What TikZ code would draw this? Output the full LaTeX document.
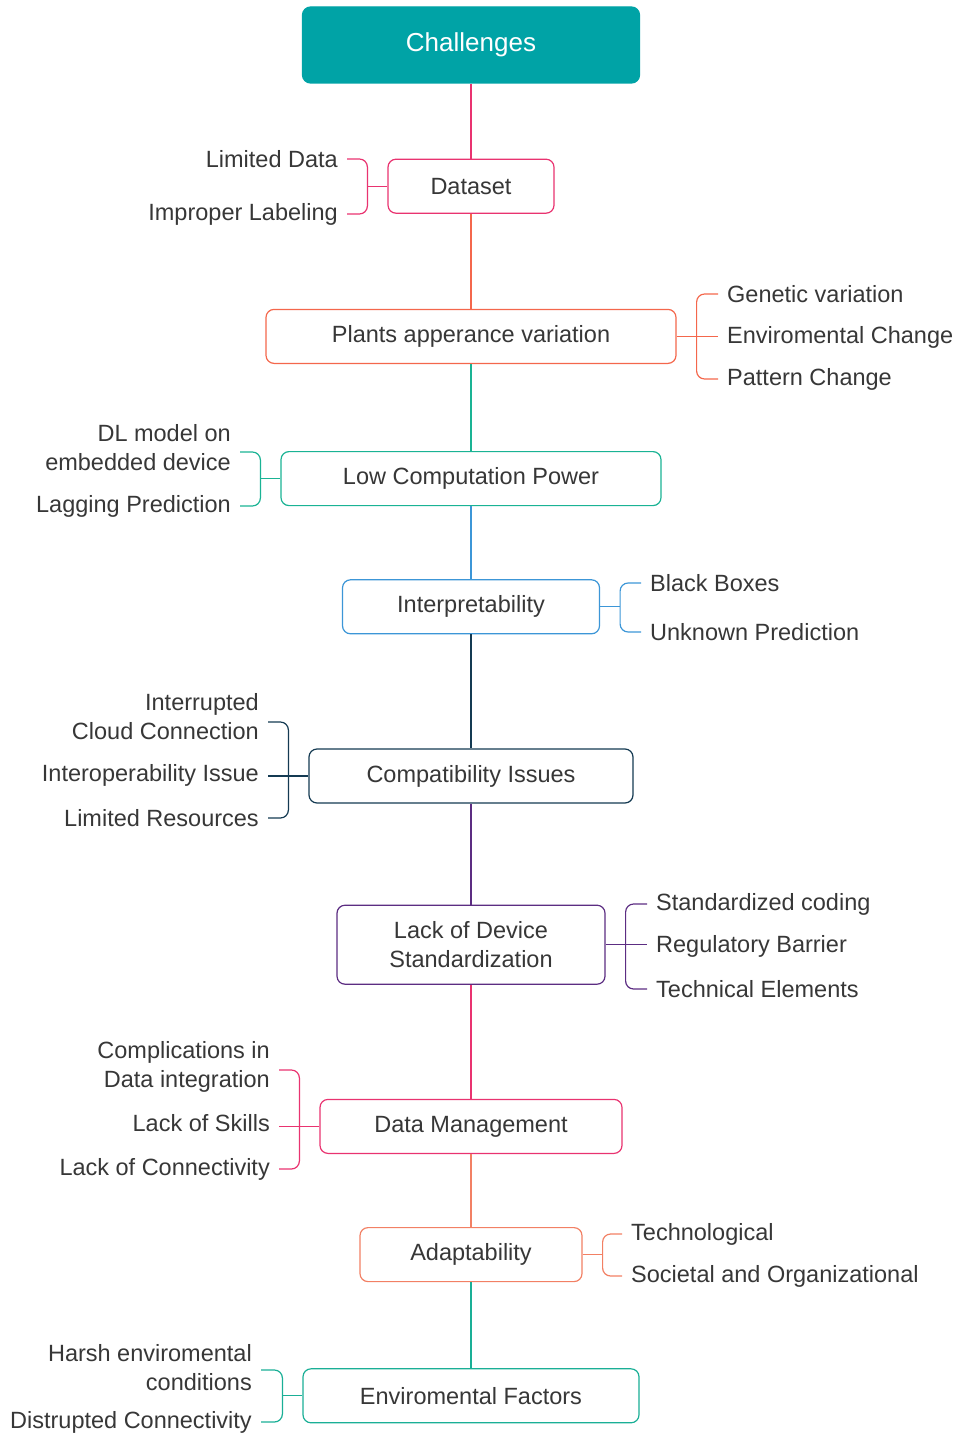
\documentclass[tikz,border=0pt]{standalone}
\usepackage{fontspec}
\setmainfont{Liberation Sans}
\usetikzlibrary{positioning}
\definecolor{ch-teal}{RGB}{0,163,166}
\definecolor{c-pink}{RGB}{233,51,112}
\definecolor{c-orange}{RGB}{244,103,76}
\definecolor{c-green}{RGB}{26,179,148}
\definecolor{c-blue}{RGB}{60,150,215}
\definecolor{c-navy}{RGB}{20,58,82}
\definecolor{c-purple}{RGB}{92,45,130}
\definecolor{c-salmon}{RGB}{242,128,100}
\definecolor{c-sea}{RGB}{26,175,150}
\definecolor{txt-gray}{RGB}{55,55,55}

\begin{document}
\begin{tikzpicture}
    [x=1pt, y=-1pt,
    box/.style = {rectangle, draw, align=center, fill=white, rounded corners=8pt,
            line width=1.2pt, minimum height=54pt, text=txt-gray,
            font=\fontsize{23.5}{29}\selectfont},
    lbl/.style = {inner sep=0pt, text=txt-gray, font=\fontsize{23.5}{29}\selectfont},
    brace/.style = {line width=1.2pt, rounded corners=8pt},
    ]
    
    \useasboundingbox (0,0) rectangle (957,1434);
    
	\node[box, draw=ch-teal, fill=ch-teal, text=white, minimum width=337pt, minimum height=76pt,
		font=\fontsize{26}{30}\selectfont] (chal) at (471,45) {Challenges};
	
	\node[box, draw=c-pink, minimum width=166pt, below=75pt of chal] (data) {Dataset};
	\node[box, draw=c-orange, minimum width=410pt, below=95pt of data] (plant) {Plants apperance variation};
	\node[box, draw=c-green, minimum width=380pt, below=87pt of plant] (lowcp) {Low Computation Power};
	\node[box, draw=c-blue, minimum width=257pt, below=73pt of lowcp] (interp) {Interpretability};
	\node[box, draw=c-navy, minimum width=324pt, below=114pt of interp] (compat) {Compatibility Issues};
	\node[box, draw=c-purple, minimum width=268pt, minimum height=79pt, below=101pt of compat] (stand) {Lack of Device\\Standardization};
	\node[box, draw=c-pink, minimum width=302pt, below=114pt of stand] (dmgmt) {Data Management};
	\node[box, draw=c-salmon, minimum width=222pt, below=73pt of dmgmt] (adapt) {Adaptability};
	\node[box, draw=c-sea, minimum width=336pt, below=86pt of adapt] (envf) {Enviromental Factors};
	
	
	\draw[c-pink, line width=1.2pt] (chal) -- (data);
	\draw[c-orange, line width=1.2pt] (data) -- (plant);
	\draw[c-green, line width=1.2pt] (plant) -- (lowcp);
	\draw[c-blue, line width=1.2pt] (lowcp) -- (interp);
	\draw[c-navy, line width=1.2pt] (interp) -- (compat);
	\draw[c-purple, line width=1.2pt] (compat) -- (stand);
	\draw[c-pink, line width=1.2pt] (stand) -- (dmgmt);
	\draw[c-salmon, line width=1.2pt] (dmgmt) -- (adapt);
	\draw[c-sea, line width=1.2pt] (adapt) -- (envf);
	
	
	\node[lbl, anchor=east] (lim-data) at (338,159) {Limited Data};
	\node[lbl, anchor=east] (imp-lab) at (338,214) {Improper Labeling};
	\draw[brace, c-pink] ([xshift=9pt]lim-data.east) -| ([xshift=-20pt]data.west) |- ([xshift=9pt]imp-lab.east);
	\draw[brace, c-pink] ([xshift=-20pt]data.west) -- (data.west);
	
	\node[lbl, anchor=west] (gen-var) at (727,294) {Genetic variation};
	\node[lbl, anchor=west] (env-chg) at (727,337) {Enviromental Change};
	\node[lbl, anchor=west] (pat-chg) at (727,379) {Pattern Change};
	\draw[brace, c-orange] ([xshift=-9pt]gen-var.west) -| ([xshift=20pt]plant.east) |- ([xshift=-9pt]pat-chg.west);
	\draw[brace, c-orange] (plant.east) -- ([xshift=-9pt]env-chg.west |- plant.east);
	
	\node[lbl, anchor=east, align=right] (dl-model) at (231,448) {DL model on\\embedded device};
	\node[lbl, anchor=east] (lag-pred) at (231,506) {Lagging Prediction};
	\draw[brace, c-green] ([shift={(9pt,-4pt)}]dl-model.east) -| ([xshift=-20pt]lowcp.west) |- ([xshift=9pt]lag-pred.east);
	\draw[brace, c-green] ([xshift=-20pt]lowcp.west) -- (lowcp.west);
	
	\node[lbl, anchor=west] (blk-box) at (650,583) {Black Boxes};
	\node[lbl, anchor=west] (unk-pred) at (650,632) {Unknown Prediction};
	\draw[brace, c-blue] ([xshift=-9pt]blk-box.west) -| ([xshift=20pt]interp.east) |- ([xshift=-9pt]unk-pred.west);
	\draw[brace, c-blue] (interp.east) -- ([xshift=20pt]interp.east);
	
	\node[lbl, anchor=east, align=right] (cloud) at (259,717) {Interrupted\\Cloud Connection};
	\node[lbl, anchor=east] (interop) at (259,775) {Interoperability Issue};
	\node[lbl, anchor=east] (lim-res) at (259,818) {Limited Resources};
	\draw[brace, c-navy] ([shift={(9pt,-5pt)}]cloud.east) -| ([xshift=-20pt]compat.west) |- ([xshift=9pt]lim-res.east);
	\draw[brace, c-navy] ([xshift=9pt]interop.east |- compat.west) -- (compat.west);
	
	\node[lbl, anchor=west] (std-cod) at (656,904) {Standardized coding};
	\node[lbl, anchor=west] (reg-bar) at (656,946) {Regulatory Barrier};
	\node[lbl, anchor=west] (tech-el) at (656,989) {Technical Elements};
	\draw[brace, c-purple] ([xshift=-9pt]std-cod.west) -| ([xshift=20pt]stand.east) |- ([xshift=-9pt]tech-el.west);
	\draw[brace, c-purple] (stand.east) -- ([xshift=-9pt]reg-bar.west |- stand.east);
	
	\node[lbl, anchor=east, align=right] (compl) at (270,1067) {Complications in\\Data integration};
	\node[lbl, anchor=east] (skills) at (270,1123) {Lack of Skills};
	\node[lbl, anchor=east] (connect) at (270,1169) {Lack of Connectivity};
	\draw[brace, c-pink] ([shift={(9pt,-3pt)}]compl.east) -| ([xshift=-20pt]dmgmt.west) |- ([xshift=9pt]connect.east);
	\draw[brace, c-pink] ([xshift=9pt]skills.east |- dmgmt.west) -- (dmgmt.west);
	
	\node[lbl, anchor=west] (techno) at (631,1234) {Technological};
	\node[lbl, anchor=west] (societ) at (631,1276) {Societal and Organizational};
	\draw[brace, c-salmon] ([xshift=-9pt]techno.west) -| ([xshift=20pt]adapt.east) |- ([xshift=-9pt]societ.west);
	\draw[brace, c-salmon] (adapt.east) -- ([xshift=20pt]adapt.east);
	
	\node[lbl, anchor=east, align=right] (harsh) at (252,1368) {Harsh enviromental\\conditions};
	\node[lbl, anchor=east] (disrupt) at (252,1422) {Distrupted Connectivity};
	\draw[brace, c-sea] ([shift={(9pt,-2pt)}]harsh.east) -| ([xshift=-20pt]envf.west) |- ([xshift=9pt]disrupt.east);
	\draw[brace, c-sea] ([xshift=-20pt]envf.west) -- (envf.west);
\end{tikzpicture}
\end{document}
